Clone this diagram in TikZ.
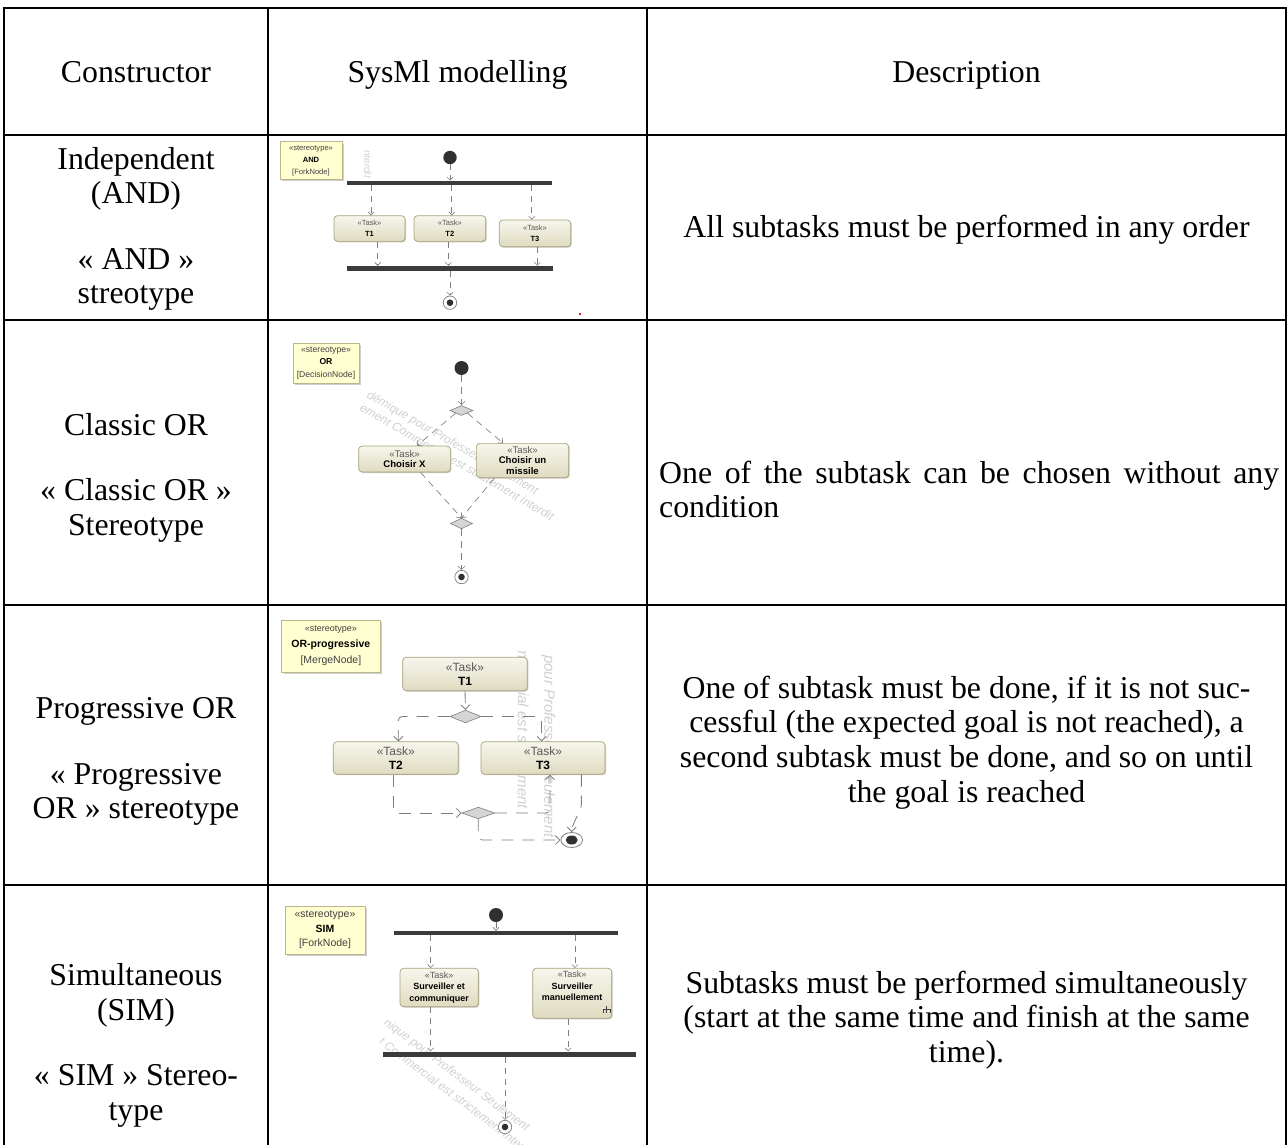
\documentclass[tikz,border=0pt]{standalone}
\usepackage{fontspec}
\setmainfont{Liberation Serif}
\newfontfamily\umlfont{Liberation Sans}
\usetikzlibrary{arrows.meta,shapes.geometric,shadows}

\definecolor{stereofill}{HTML}{FFFFD2}
\definecolor{stereoedge}{HTML}{BCB68C}
\definecolor{stereoshade}{HTML}{CFCFCF}
\definecolor{taskedge}{HTML}{A6A27C}
\definecolor{tasklight}{HTML}{F7F6EC}
\definecolor{taskdark}{HTML}{DFDBC1}
\definecolor{taskshade}{HTML}{C9C9C0}
\definecolor{flowgray}{HTML}{7E7E7E}
\definecolor{barfill}{HTML}{3B3B3B}
\definecolor{nodedark}{HTML}{303030}
\definecolor{diamondfill}{HTML}{D5D5D5}
\definecolor{markgray}{HTML}{D0D0D0}
\definecolor{specklered}{HTML}{E02424}

\newcommand{\cellfont}{\fontsize{31.8}{34.7}\selectfont}
\newcommand{\umlsz}[2]{\umlfont\fontsize{#1}{#2}\selectfont}
\newcommand{\kw}{{\color{black!65}«Task»}}

\tikzset{
  cell/.style={font=\cellfont, inner sep=0pt, anchor=base},
  cellwest/.style={cell, anchor=base west},
  gridline/.style={line width=2.6pt, line cap=rect},
  stereobox/.style={draw=stereoedge, fill=stereofill, line width=0.6pt, inner sep=0pt, align=center,
    drop shadow={shadow xshift=2pt, shadow yshift=-2pt, fill=stereoshade, opacity=1}},
  taskbox/.style={draw=taskedge, rounded corners=3.5pt, line width=0.7pt,
    top color=tasklight, bottom color=taskdark, inner sep=0pt, align=center,
    drop shadow={shadow xshift=1pt, shadow yshift=-1pt, fill=taskshade, opacity=1}},
  forkbar/.style={fill=barfill, inner sep=0pt},
  initnode/.style={circle, fill=nodedark, inner sep=0pt},
  finalnode/.style={circle, draw=flowgray, fill=white, line width=0.7pt, inner sep=0pt,
    path picture={\fill[nodedark] (path picture bounding box.center) circle (#1);}},
  branch/.style={diamond, draw=flowgray, fill=diamondfill, line width=0.6pt, inner sep=0pt},
  flowsmall/.style={draw=flowgray, line width=0.6pt, dash pattern=on 6pt off 5pt,
    -{Straight Barb[length=3pt,width=6pt]}},
  flowmid/.style={draw=flowgray, line width=0.65pt, dash pattern=on 7pt off 5pt,
    -{Straight Barb[length=3.5pt,width=7pt]}},
  flowbig/.style={draw=flowgray, line width=0.85pt, dash pattern=on 12pt off 9pt,
    rounded corners=4pt, -{Straight Barb[length=4.5pt,width=9pt]}},
  wmark/.style={text=markgray, font=\umlsz{#1}{#1}\itshape, inner sep=0pt, anchor=base west},
}

\begin{document}
\begin{tikzpicture}[x=1pt, y=-1pt]
\useasboundingbox (0,0) rectangle (1287,1145);

% ---------- table rules ----------
\foreach \yy in {8,135,320,605,885}
  \draw[gridline] (4,\yy) -- (1286,\yy);
\foreach \xx in {4,268,647,1286}
  \draw[gridline] (\xx,8) -- (\xx,1146);

% ---------- header ----------
\node[cell] (hc1) at (136,82.5) {Constructor};
\node[cell] (hc2) at (457.5,82.5) {SysMl modelling};
\node[cell] (hc3) at (966.5,82.5) {Description};

% ---------- row 1 text ----------
\node[cell] (r1a) at (136,169) {Independent};
\node[cell] (r1b) at (136,203) {(AND)};
\node[cell] (r1c) at (136,269) {« AND »};
\node[cell] (r1d) at (136,303.5) {streotype};
\node[cell] (r1e) at (966.5,237.5) {All subtasks must be performed in any order};

% ---------- row 2 text ----------
\node[cell] (r2a) at (136,435.5) {Classic OR};
\node[cell] (r2b) at (136,500.5) {« Classic OR »};
\node[cell] (r2c) at (136,535.5) {Stereotype};
\node[cellwest] (r2d) at (659,483.5) {\makebox[620pt][s]{One of the subtask can be chosen without any}};
\node[cellwest] (r2e) at (659,517.5) {condition};

% ---------- row 3 text ----------
\node[cell] (r3a) at (136,718.5) {Progressive OR};
\node[cell] (r3b) at (136,784.5) {« Progressive};
\node[cell] (r3c) at (136,818.5) {OR » stereotype};
\node[cell] (r3d) at (966.5,698.5) {One of subtask must be done, if it is not suc-};
\node[cell] (r3e) at (966.5,732.5) {cessful (the expected goal is not reached), a};
\node[cell] (r3f) at (966.5,767.5) {second subtask must be done, and so on until};
\node[cell] (r3g) at (966.5,802.5) {the goal is reached};

% ---------- row 4 text ----------
\node[cell] (r4a) at (136,985.5) {Simultaneous};
\node[cell] (r4b) at (136,1020.5) {(SIM)};
\node[cell] (r4c) at (136,1085.5) {« SIM » Stereo-};
\node[cell] (r4d) at (136,1120.5) {type};
\node[cell] (r4e) at (966.5,993.5) {Subtasks must be performed simultaneously};
\node[cell] (r4f) at (966.5,1027.5) {(start at the same time and finish at the same};
\node[cell] (r4g) at (966.5,1062.5) {time).};

% ---------- tool watermarks ----------
\begin{scope}
  \clip (355,150) rectangle (380,186);
  \node[wmark=10, rotate=-90] (w1) at (364,150) {nterdit};
\end{scope}
\begin{scope}
  \clip (355,322) rectangle (584,603);
  \node[wmark=12, rotate=-30] (w2a) at (366,397) {démique pour Professeur Seulement};
  \node[wmark=12, rotate=-30] (w2b) at (359,410) {ement Commercial est strictement interdit};
\end{scope}
\begin{scope}
  \clip (500,651) rectangle (586,882);
  \node[wmark=15, rotate=-90] (w3a) at (544.4,655) {pour Professeur Seulement};
  \node[wmark=15, rotate=-90] (w3b) at (517.8,627) {Commercial est strictement};
\end{scope}
\begin{scope}
  \clip (380,1015) rectangle (645,1145);
  \node[wmark=12, rotate=-37] (w4a) at (383,1024) {nique pour Professeur Seulement};
  \node[wmark=12, rotate=-37] (w4b) at (378,1043) {t Commercial est strictement interdit};
\end{scope}

% ================= AND diagram =================
\node[stereobox, font=\umlsz{7.6}{12}, minimum width=61.7pt, minimum height=37.7pt] (s1) at (311,160.5)
  {{\color{black!75}«stereotype»}\\\textbf{AND}\\{\color{black!75}[ForkNode]}};
\node[initnode, minimum size=13.4pt] (i1) at (450,157.5) {};
\node[forkbar, minimum width=205.6pt, minimum height=4pt] (fa1) at (449.5,182.7) {};
\node[taskbox, font=\umlsz{7.5}{10.8}, minimum width=71pt, minimum height=25.7pt] (t11) at (369.5,228.5) {\kw\\\textbf{T1}};
\node[taskbox, font=\umlsz{7.5}{10.8}, minimum width=71.7pt, minimum height=25.7pt] (t12) at (449.85,228.5) {\kw\\\textbf{T2}};
\node[taskbox, font=\umlsz{7.5}{10.8}, minimum width=71.4pt, minimum height=26.7pt] (t13) at (535,233.35) {\kw\\\textbf{T3}};
\node[forkbar, minimum width=206.6pt, minimum height=4.7pt] (fb1) at (450,268.35) {};
\node[finalnode=3.3pt, minimum size=13.4pt] (f1) at (450,302.7) {};
\fill[specklered] (579.3,313) rectangle (581,314.6);

\draw[flowsmall] (i1.south) -- (i1.south |- fa1.north);
\coordinate (a11) at ([xshift=1.5pt]t11.north);
\coordinate (a12) at ([xshift=1.9pt]t12.north);
\coordinate (a13) at ([xshift=-3.3pt]t13.north);
\draw[flowsmall] (a11 |- fa1.south) -- (a11);
\draw[flowsmall] (a12 |- fa1.south) -- (a12);
\draw[flowsmall] (a13 |- fa1.south) -- (a13);
\coordinate (b11) at ([xshift=8.2pt]t11.south);
\coordinate (b12) at ([xshift=-1.5pt]t12.south);
\coordinate (b13) at ([xshift=2.3pt]t13.south);
\draw[flowsmall] (b11) -- (b11 |- fb1.north);
\draw[flowsmall] (b12) -- (b12 |- fb1.north);
\draw[flowsmall] (b13) -- (b13 |- fb1.north);
\draw[flowsmall] (f1.north |- fb1.south) -- (f1.north);

% ================= classic OR diagram =================
\node[stereobox, font=\umlsz{8.6}{12.6}, minimum width=66pt, minimum height=40pt] (s2) at (326,363)
  {{\color{black!75}«stereotype»}\\\textbf{OR}\\{\color{black!75}[DecisionNode]}};
\node[initnode, minimum size=14pt] (i2) at (461.5,368) {};
\node[branch, minimum width=23pt, minimum height=10pt] (d2) at (461.5,410.5) {};
\node[taskbox, font=\umlsz{9.6}{10.6}, minimum width=91.7pt, minimum height=26pt] (c2) at (404.5,459) {\kw\\\textbf{Choisir X}};
\node[taskbox, font=\umlsz{9.6}{10.4}, minimum width=92.3pt, minimum height=34.3pt] (ms2) at (522.5,460.5) {\kw\\\textbf{Choisir un}\\\textbf{missile}};
\node[branch, minimum width=22pt, minimum height=10.6pt] (mg2) at (461.5,523.5) {};
\node[finalnode=3.3pt, minimum size=13.4pt] (f2) at (461.5,577) {};

\draw[flowmid] (i2.south) -- (d2.north);
\draw[flowmid] (d2.south west) -- ([xshift=12.5pt]c2.north);
\draw[flowmid] (d2.south east) -- ([xshift=-19.5pt]ms2.north);
\draw[flowmid] ([xshift=16pt]c2.south) -- (mg2.north);
\draw[flowmid] ([xshift=-28pt]ms2.south) -- (mg2.north);
\draw[flowmid] (mg2.south) -- (f2.north);

% ================= progressive OR diagram =================
\node[stereobox, font=\umlsz{10.5}{16}, minimum width=98.3pt, minimum height=52pt] (s3) at (330.85,646)
  {{\color{black!75}\umlsz{9}{16}«stereotype»}\\\textbf{OR-progressive}\\{\color{black!75}[MergeNode]}};
\node[taskbox, font=\umlsz{12}{13.5}, minimum width=124.6pt, minimum height=33.4pt] (t31) at (465,674) {\kw\\\textbf{T1}};
\node[branch, minimum width=31pt, minimum height=12.7pt] (d3) at (465.5,716.5) {};
\node[taskbox, font=\umlsz{12}{13.5}, minimum width=125pt, minimum height=32.4pt] (t32) at (395.8,758) {\kw\\\textbf{T2}};
\node[taskbox, font=\umlsz{12}{13.5}, minimum width=124pt, minimum height=32.4pt] (t33) at (543,758) {\kw\\\textbf{T3}};
\node[branch, minimum width=33pt, minimum height=11.7pt] (m3) at (478.3,813) {};
\node[ellipse, draw=flowgray, fill=white, line width=0.8pt, inner sep=0pt,
      minimum width=21.7pt, minimum height=15pt,
      path picture={\fill[nodedark] (path picture bounding box.center) ellipse (6pt and 4.5pt);}] (f3) at (571.7,840) {};

\draw[flowbig] (t31.south) -- (d3.north);
\draw[flowbig] (d3.west) -| ([xshift=2.5pt]t32.north);
\draw[flowbig] (d3.east) -| ([xshift=-1.3pt]t33.north);
\draw[flowbig] ([xshift=-2.5pt]t32.south) |- (m3.west);
\draw[flowbig] (m3.east) -| ([xshift=7pt]t33.south);
\draw[flowbig] (m3.south) |- (f3.west);
\draw[flowbig] ([xshift=-24pt]t33.south east) -- ++(0,26) .. controls +(0,10) and +(0,-8) .. (f3.north);

% ================= SIM diagram =================
\node[stereobox, font=\umlsz{10.5}{14.5}, minimum width=80pt, minimum height=48.3pt] (s4) at (325,930)
  {{\color{black!75}«stereotype»}\\\textbf{SIM}\\{\color{black!75}[ForkNode]}};
\node[initnode, minimum size=14pt] (i4) at (496,915) {};
\node[forkbar, minimum width=223.4pt, minimum height=4pt] (fa4) at (506,933) {};
\node[taskbox, font=\umlsz{9}{11.3}, minimum width=78.3pt, minimum height=38.4pt] (t41) at (439.15,987.5) {\kw\\\textbf{Surveiller et}\\\textbf{communiquer}};
\node[taskbox, minimum width=79pt, minimum height=50pt] (t42) at (572.2,993.3) {};
\node[font=\umlsz{9}{11.3}, align=center, inner sep=0pt] (t42x) at (572.2,985.8) {\kw\\\textbf{Surveiller}\\\textbf{manuellement}};
\draw[line width=0.8pt, black!75] (606.7,1005.5) -- (606.7,1009) (603.4,1013) -- (603.4,1009) -- (610,1009) -- (610,1013) (606.7,1009) -- (606.7,1013);
\node[forkbar, minimum width=252.7pt, minimum height=5pt] (fb4) at (509.65,1054) {};
\node[finalnode=3.3pt, minimum size=13.4pt] (f4) at (505,1127) {};

\draw[flowsmall] (i4.south) -- (i4.south |- fa4.north);
\coordinate (a41) at ([xshift=-8.5pt]t41.north);
\coordinate (a42) at ([xshift=2.8pt]t42.north);
\draw[flowsmall] (a41 |- fa4.south) -- (a41);
\draw[flowsmall] (a42 |- fa4.south) -- (a42);
\coordinate (b41) at ([xshift=-8.5pt]t41.south);
\coordinate (b42) at ([xshift=-3.9pt]t42.south);
\draw[flowsmall] (b41) -- (b41 |- fb4.north);
\draw[flowsmall] (b42) -- (b42 |- fb4.north);
\draw[flowsmall] (f4.north |- fb4.south) -- (f4.north);

\end{tikzpicture}
\end{document}
